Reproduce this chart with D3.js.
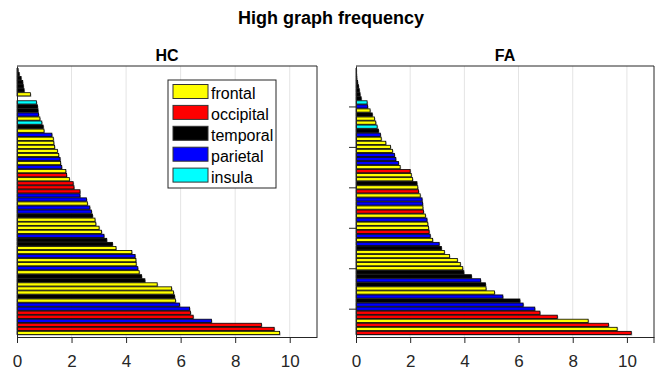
<!DOCTYPE html>
<html>
<head>
<meta charset="utf-8">
<script src="https://cdn.jsdelivr.net/npm/d3@7"></script>
<style>
  html, body { margin: 0; padding: 0; background: #fff; }
  svg { display: block; font-family: "Liberation Sans", Arial, Helvetica, sans-serif; }
</style>
</head>
<body>
<div id="graph-holder"></div>
<script>
// lobe codes: F frontal, O occipital, T temporal, P parietal, I insula
var lobeNames = ["frontal", "occipital", "temporal", "parietal", "insula"];
var lobeCodes = ["F", "O", "T", "P", "I"];

// bars listed from top of the axes to the bottom
var hcValues = [0.04, 0.08, 0.15, 0.21, 0.23, 0.26, 0.49, 0.0, 0.71, 0.75, 0.77, 0.79, 0.84, 0.91, 0.96, 0.99,
  1.28, 1.33, 1.35, 1.38, 1.48, 1.53, 1.58, 1.60, 1.64, 1.79, 1.82, 1.92, 2.06, 2.09, 2.31, 2.31,
  2.55, 2.58, 2.67, 2.73, 2.77, 2.86, 2.89, 3.01, 3.10, 3.19, 3.29, 3.50, 3.63, 4.21, 4.33, 4.36,
  4.37, 4.43, 4.48, 4.57, 4.69, 5.14, 5.67, 5.74, 5.78, 5.81, 5.96, 6.33, 6.36, 6.46, 7.13, 8.96,
  9.43, 9.63];
var hcLobes = ["T", "T", "T", "T", "T", "T", "F", "T", "I", "T", "T", "P", "F", "I", "T", "F",
  "P", "F", "F", "F", "F", "F", "P", "F", "P", "F", "O", "F", "O", "O", "O", "P",
  "P", "F", "P", "P", "T", "F", "F", "F", "F", "P", "T", "T", "F", "F", "P", "F",
  "F", "P", "F", "T", "T", "F", "F", "F", "T", "F", "P", "P", "O", "O", "P", "O",
  "O", "F"];

var faValues = [0.01, 0.02, 0.03, 0.06, 0.09, 0.12, 0.15, 0.19, 0.41, 0.43, 0.52, 0.60, 0.68, 0.73, 0.78, 0.83,
  0.90, 0.93, 1.10, 1.27, 1.35, 1.42, 1.47, 1.57, 1.63, 2.00, 2.04, 2.09, 2.25, 2.28, 2.31, 2.37,
  2.44, 2.46, 2.47, 2.49, 2.56, 2.62, 2.65, 2.68, 2.70, 2.74, 2.83, 3.07, 3.15, 3.26, 3.45, 3.74,
  3.85, 3.94, 3.98, 4.26, 4.60, 4.78, 4.80, 5.11, 5.42, 6.05, 6.17, 6.60, 6.79, 7.43, 8.57, 9.32,
  9.64, 10.16];
var faLobes = ["T", "T", "T", "T", "T", "T", "T", "T", "I", "P", "F", "T", "F", "F", "I", "T",
  "P", "F", "F", "F", "F", "P", "P", "P", "F", "O", "F", "F", "T", "F", "O", "F",
  "P", "P", "F", "O", "F", "P", "F", "F", "O", "P", "F", "P", "T", "F", "F", "F",
  "F", "F", "T", "T", "P", "T", "F", "F", "P", "T", "P", "P", "O", "O", "F", "O",
  "F", "O"];

var xTicks = [0, 2, 4, 6, 8, 10];
var faYTicks = [10, 20, 30, 40, 50, 60];

var lobeColor = d3.scaleOrdinal()
  .domain(lobeCodes)
  .range(["#ffff00", "#ff0000", "#000000", "#0000ff", "#00ffff"]);

var axisColor = "#262626";
var W = 663, H = 372;

var svg = d3.select("#graph-holder")
  .append("svg")
  .attr("width", W)
  .attr("height", H);

svg.append("text")
  .attr("x", 331)
  .attr("y", 24)
  .attr("text-anchor", "middle")
  .style("font-size", "18px")
  .style("font-weight", "bold")
  .style("fill", "#000")
  .text("High graph frequency");

function drawPanel(opts) {
  var x = d3.scaleLinear().domain([0, 11]).range([opts.left, opts.right]);
  var y = d3.scaleLinear().domain([0, 67]).range([opts.top, opts.bottom]);
  var g = svg.append("g");
  var barH = y(0.8) - y(0);

  // grid
  g.selectAll("line.grid")
    .data(xTicks.filter((d) => d > 0))
    .enter()
    .append("line")
    .attr("class", "grid")
    .attr("x1", (d) => x(d))
    .attr("x2", (d) => x(d))
    .attr("y1", opts.top)
    .attr("y2", opts.bottom)
    .style("stroke", "#e4e4e4")
    .style("stroke-width", 1);

  var data = opts.values.map((v, i) => ({ v: v, lobe: opts.lobes[i], idx: i + 1 }));

  // soft shadow under each bar
  g.selectAll("rect.shadow")
    .data(data)
    .enter()
    .append("rect")
    .attr("class", "shadow")
    .attr("x", x(0) + 1)
    .attr("y", (d) => y(d.idx) - barH / 2 + 1)
    .attr("width", (d) => Math.max(0, x(d.v) - x(0)))
    .attr("height", barH)
    .style("fill", "#8a8a8a")
    .style("opacity", 0.7);

  g.selectAll("rect.bar")
    .data(data)
    .enter()
    .append("rect")
    .attr("class", "bar")
    .attr("x", x(0))
    .attr("y", (d) => y(d.idx) - barH / 2)
    .attr("width", (d) => Math.max(0, x(d.v) - x(0)))
    .attr("height", barH)
    .style("fill", (d) => lobeColor(d.lobe))
    .style("stroke", "#000")
    .style("stroke-width", 0.8);

  // box
  g.append("line")
    .attr("x1", opts.left).attr("x2", opts.right)
    .attr("y1", opts.top).attr("y2", opts.top)
    .style("stroke", axisColor);
  g.append("line")
    .attr("x1", opts.right).attr("x2", opts.right)
    .attr("y1", opts.top).attr("y2", opts.bottom + (opts.rightTick ? 6 : 0))
    .style("stroke", axisColor);

  var xAxis = d3.axisBottom(x).tickValues(xTicks).tickSize(6).tickSizeOuter(0).tickPadding(12);
  var gx = g.append("g")
    .attr("transform", "translate(0," + opts.bottom + ")")
    .call(xAxis);
  gx.select(".domain").style("stroke", axisColor);
  gx.selectAll(".tick line").style("stroke", axisColor);
  gx.selectAll(".tick text")
    .style("font-size", "17px")
    .style("fill", axisColor)
    .style("font-family", "'Liberation Sans', Arial, sans-serif");

  var yAxis = d3.axisLeft(y)
    .tickValues(opts.yTicks)
    .tickFormat("")
    .tickSize(7)
    .tickSizeOuter(0);
  var gy = g.append("g")
    .attr("transform", "translate(" + opts.left + ",0)")
    .call(yAxis);
  gy.select(".domain").style("stroke", axisColor);
  gy.selectAll(".tick line").style("stroke", axisColor);

  g.append("text")
    .attr("x", (opts.left + opts.right) / 2)
    .attr("y", 61)
    .attr("text-anchor", "middle")
    .style("font-size", "16px")
    .style("font-weight", "bold")
    .style("fill", "#000")
    .text(opts.title);

  return { x: x, y: y, g: g };
}

drawPanel({ left: 17, right: 317, top: 66, bottom: 337, values: hcValues, lobes: hcLobes, yTicks: [], title: "HC" });
drawPanel({ left: 356, right: 654, top: 66, bottom: 337, values: faValues, lobes: faLobes, yTicks: faYTicks, title: "FA", rightTick: true });

// legend
var legend = svg.append("g").attr("transform", "translate(168,80)");
legend.append("rect")
  .attr("width", 108)
  .attr("height", 108)
  .style("fill", "#fff")
  .style("stroke", axisColor)
  .style("stroke-width", 1);

var rows = legend.selectAll("g.row")
  .data(lobeCodes)
  .enter()
  .append("g")
  .attr("class", "row")
  .attr("transform", (d, i) => "translate(5," + (4.5 + i * 20.9) + ")");

rows.append("rect")
  .attr("width", 35)
  .attr("height", 14)
  .style("fill", (d) => lobeColor(d))
  .style("stroke", "#333")
  .style("stroke-width", 1);

rows.append("text")
  .attr("x", 38)
  .attr("y", 14.5)
  .style("font-size", "16px")
  .style("fill", "#000")
  .text((d, i) => lobeNames[i]);
</script>
</body>
</html>
